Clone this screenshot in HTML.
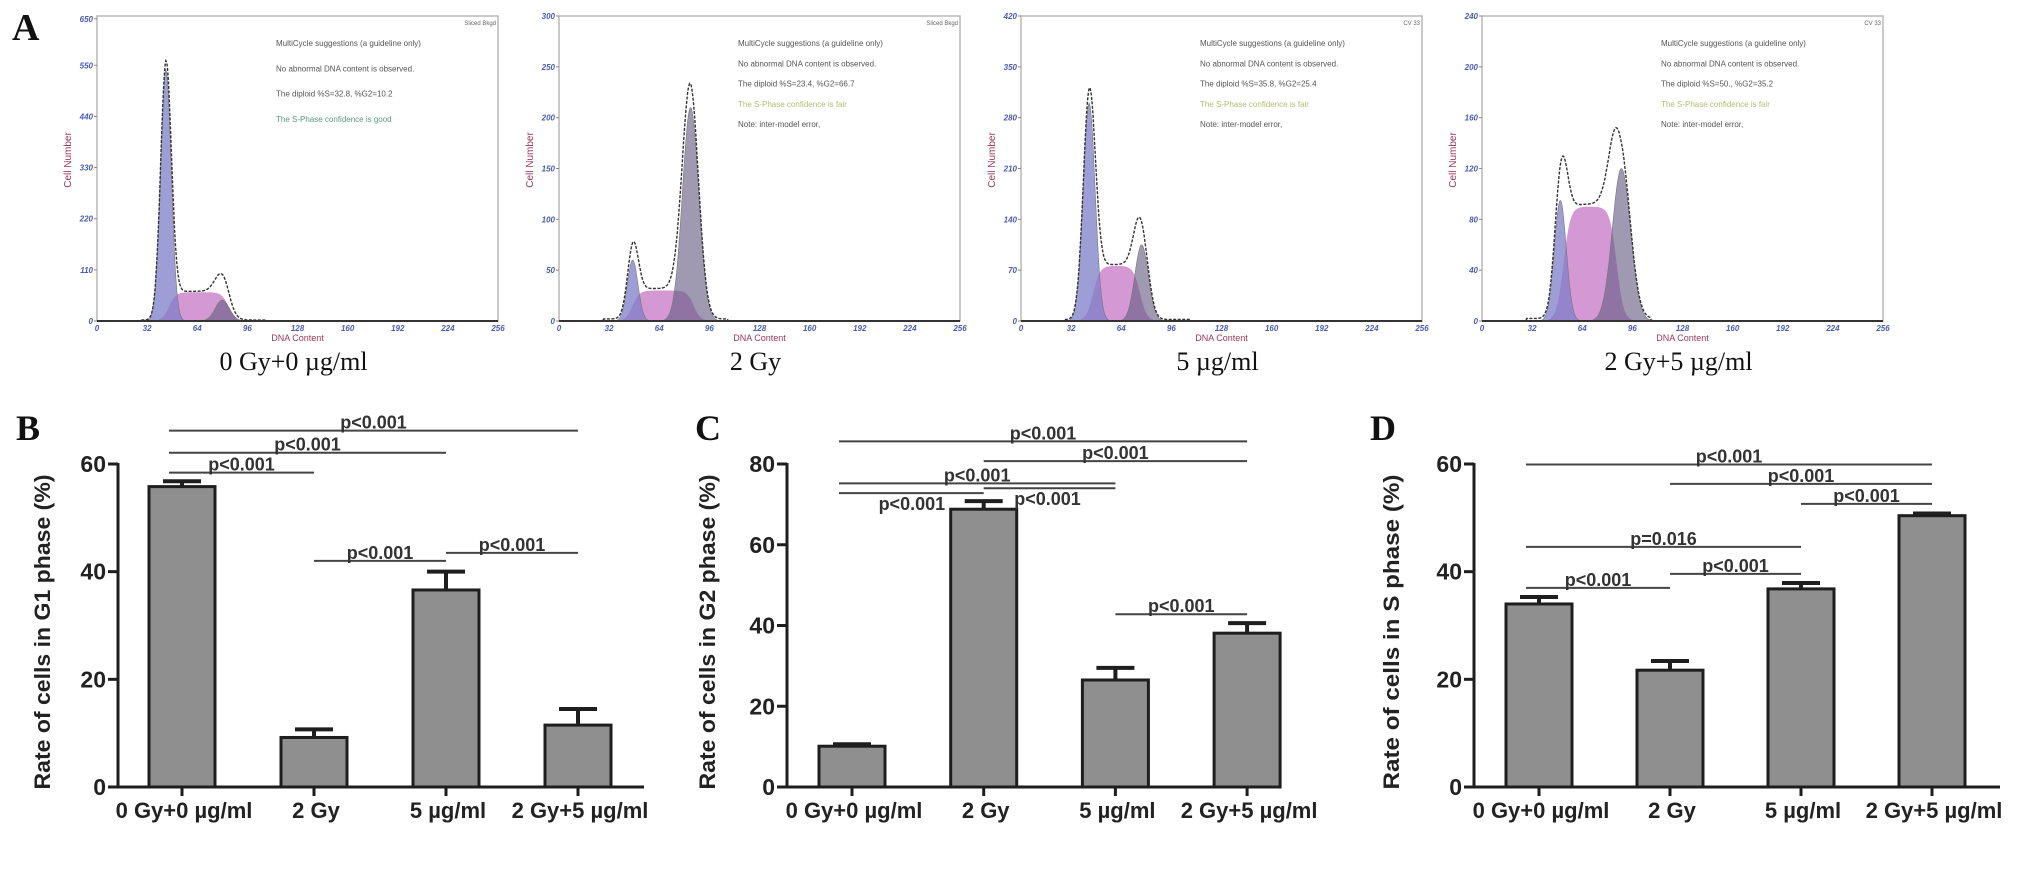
<!DOCTYPE html>
<html><head><meta charset="utf-8">
<style>
html,body{margin:0;padding:0;background:#fff;}
svg{display:block;}
.sans{font-family:"Liberation Sans",Arial,sans-serif;}
.serif{font-family:"Liberation Serif","Times New Roman",serif;}
</style></head>
<body>
<svg id="fig" width="2031" height="880" viewBox="0 0 2031 880" xmlns="http://www.w3.org/2000/svg">
<rect width="2031" height="880" fill="#fff"/>
</svg>
<script>
// ---------- Histogram data (panel A) ----------
const histCaptions = ["0 Gy+0 \u00b5g/ml", "2 Gy", "5 \u00b5g/ml", "2 Gy+5 \u00b5g/ml"];
const histYTicks = [[0,110,220,330,440,550,650],[0,50,100,150,200,250,300],[0,70,140,210,280,350,420],[0,40,80,120,160,200,240]];
const histYMax = [656, 300, 420, 240];
const g1Mean = [44, 47, 43.5, 50];
const g1Height = [540, 60, 300, 95];
const g1Sigma = [3.4, 3.4, 3.8, 3.8];
const sStart = [46, 47, 46, 52];
const sEnd = [84, 86, 76, 86];
const sHeight = [62, 30, 76, 90];
const g2Mean = [80, 84, 77, 89];
const g2Height = [45, 210, 105, 120];
const g2Sigma = [4.5, 5.2, 4.3, 5.8];
const statLine = ["The diploid %S=32.8, %G2=10.2","The diploid %S=23.4, %G2=66.7","The diploid %S=35.8, %G2=25.4","The diploid %S=50., %G2=35.2"];
const confLine = ["The S-Phase confidence is good","The S-Phase confidence is fair","The S-Phase confidence is fair","The S-Phase confidence is fair"];
const cornerTag = ["Sliced Bkgd","Sliced Bkgd","CV 33","CV 33"];
const xTicks = [0,32,64,96,128,160,192,224,256];

// ---------- Bar chart data ----------
const categories = ["0 Gy+0 \u00b5g/ml", "2 Gy", "5 \u00b5g/ml", "2 Gy+5 \u00b5g/ml"];
const g1Values = [55.8, 9.2, 36.6, 11.5];
const g1Errors = [1.0, 1.5, 3.4, 3.0];
const g2Values = [10.1, 68.8, 26.5, 38.1];
const g2Errors = [0.5, 2.0, 3.0, 2.5];
const sValues = [34.0, 21.7, 36.8, 50.4];
const sErrors = [1.3, 1.7, 1.1, 0.4];
const g1Ticks = [0, 20, 40, 60];
const g2Ticks = [0, 20, 40, 60, 80];
const sTicks = [0, 20, 40, 60];
// significance brackets: [from, to, level, label, below]
const g1Sig = [[0,3,66.2,"p<0.001",0],[0,2,62.1,"p<0.001",0],[0,1,58.4,"p<0.001",0],[1,2,42.0,"p<0.001",0],[2,3,43.5,"p<0.001",0]];
const g2Sig = [[0,3,85.6,"p<0.001",0],[1,3,80.7,"p<0.001",0],[0,2,75.2,"p<0.001",0],[0,1,72.8,"p<0.001",1],[1,2,74.0,"p<0.001",1],[2,3,42.8,"p<0.001",0]];
const sSig = [[0,3,59.9,"p<0.001",0],[1,3,56.3,"p<0.001",0],[2,3,52.6,"p<0.001",0],[0,2,44.6,"p=0.016",0],[1,2,39.6,"p<0.001",0],[0,1,37.0,"p<0.001",0]];

const NS = "http://www.w3.org/2000/svg";
const svg = document.getElementById('fig');
function mk(tag, attrs, parent, text){
  const e = document.createElementNS(NS, tag);
  for (const k in attrs) e.setAttribute(k, attrs[k]);
  if (text !== undefined) e.textContent = text;
  (parent || svg).appendChild(e);
  return e;
}

// ---------- Panel A ----------
const letterA = mk('text',{x:12,y:40,'font-size':38,'font-weight':'bold',class:'serif',fill:'#111'},svg,'A');



const frameLeft = [97, 559, 1021, 1482];
const FW = 401, FT = 16, FB = 321;

function gauss(x,m,s){return Math.exp(-0.5*((x-m)/s)*((x-m)/s));}
function sPhase(x,a,b){const k=2.2;return 1/(1+Math.exp(-(x-a)/k))*1/(1+Math.exp((x-b)/k));}

for (let p=0;p<4;p++){
  const g = mk('g',{},svg);
  
  
  const L = frameLeft[p];
  const xs = d => L + d/256*FW;
  const ys = v => FB - v/histYMax[p]*(FB-FT);
  mk('rect',{x:L,y:FT,width:FW,height:FB-FT,fill:'#fff',stroke:'#b8b8b8','stroke-width':1.5},g);
  const comp = (fn) => {
    let d = 'M'+xs(20)+','+ys(0);
    for (let x=20;x<=120;x+=0.5){ d += ' L'+xs(x).toFixed(1)+','+ys(fn(x)).toFixed(1); }
    d += ' L'+xs(120)+','+ys(0)+' Z';
    return d;
  };
  const fS = x => sHeight[p]*sPhase(x,sStart[p],sEnd[p]);
  const fG1 = x => g1Height[p]*gauss(x,g1Mean[p],g1Sigma[p]);
  const fG2 = x => g2Height[p]*gauss(x,g2Mean[p],g2Sigma[p]);
  const sp = mk('path',{d:comp(fS),fill:'rgba(205,135,205,0.85)'},g);
  
  
  const g1p = mk('path',{d:comp(fG1),fill:'rgba(125,125,200,0.75)',stroke:'#777',"stroke-width":0.6},g);
  
  
  const g2p = mk('path',{d:comp(fG2),fill:'rgba(100,92,130,0.62)',stroke:'#777',"stroke-width":0.6},g);
  
  
  let ed = '';
  for (let x=20;x<=120;x+=0.5){ const v=fS(x)+fG1(x)+fG2(x)+ (x>28&&x<108?2:0); ed += (ed?' L':'M')+xs(x).toFixed(1)+','+ys(v).toFixed(1); }
  const env = mk('path',{d:ed,fill:'none',stroke:'#333','stroke-width':1.4,'stroke-dasharray':'3,1.5'},g);
  
  
  mk('line',{x1:L,y1:FB,x2:L+FW,y2:FB,stroke:'#333','stroke-width':2},g);
  histYTicks[p].forEach(t=>{
    const y = ys(t);
    mk('line',{x1:L-3,y1:y,x2:L,y2:y,stroke:'#888','stroke-width':1},g);
    const tl = mk('text',{x:L-4,y:y+3,'font-size':8,'font-style':'italic','font-weight':'bold','text-anchor':'end',fill:'#4a5cb5',class:'sans'},g,String(t));
    
    
  });
  xTicks.forEach(t=>{
    const xl = mk('text',{x:xs(t),y:FB+10,'font-size':8,'font-style':'italic','font-weight':'bold','text-anchor':'middle',fill:'#4a5cb5',class:'sans'},g,String(t));
    
    
  });
  const yt = mk('text',{x:0,y:0,'font-size':10,'text-anchor':'middle',fill:'#9a3858',class:'sans',transform:'translate('+(L-26)+',160) rotate(-90)'},g,'Cell Number');
  
  
  const xt = mk('text',{x:L+FW/2,y:FB+20,'font-size':9,'text-anchor':'middle',fill:'#9a3858',class:'sans'},g,'DNA Content');
  
  
  const ct = mk('text',{x:L+FW-2,y:FT+9,'font-size':6,'text-anchor':'end',fill:'#666',class:'sans'},g,cornerTag[p]);
  
  
  const lines = p===0 ? ["MultiCycle suggestions (a guideline only)","No abnormal DNA content is observed.",statLine[p],confLine[p]]
                      : ["MultiCycle suggestions (a guideline only)","No abnormal DNA content is observed.",statLine[p],confLine[p],"Note: inter-model error,"];
  const tx = L + 179;
  const step = p===0 ? 25.3 : 20.3;
  lines.forEach((s,i)=>{
    const col = i===3 ? (p===0?'#5a9a82':'#b5bd72') : '#555';
    const t = mk('text',{x:tx,y:46+i*step,'font-size':8,fill:col,class:'sans'},g,s);
    
    
  });
  const cap = mk('text',{x:L+FW/2-4,y:370,'font-size':26,'text-anchor':'middle',fill:'#111',class:'serif'},g,histCaptions[p]);
  
  
}

// ---------- Bar charts ----------
function barChart(cfg){
  const g = mk('g',{},svg);
  
  
  const Y0 = 787, YT = 464;
  const ymax = cfg.ticks[cfg.ticks.length-1];
  const ys = v => Y0 - v/ymax*(Y0-YT);
  const xc = i => cfg.c0 + i*cfg.step;
  const BW = 66;
  const lt = mk('text',{x:cfg.letterX,y:440,'font-size':36,'font-weight':'bold',class:'serif',fill:'#111'},g,cfg.letter);
  
  
  cfg.values.forEach((v,i)=>{
    const b = mk('rect',{x:xc(i)-BW/2,y:ys(v),width:BW,height:Y0-ys(v),fill:'#8f8f8f',stroke:'#1e1e1e','stroke-width':3},g);
    
    
    const top = ys(v+cfg.errors[i]);
    const e = mk('path',{d:'M'+xc(i)+','+ys(v)+' L'+xc(i)+','+top+' M'+(xc(i)-19)+','+top+' L'+(xc(i)+19)+','+top,stroke:'#1e1e1e','stroke-width':4,fill:'none'},g);
    
    
  });
  const ax = mk('path',{d:'M'+cfg.axisX+','+(YT-1)+' L'+cfg.axisX+','+Y0+' L'+cfg.axisEnd+','+Y0,stroke:'#1e1e1e','stroke-width':3,fill:'none'},g);
  
  
  cfg.ticks.forEach(t=>{
    mk('line',{x1:cfg.axisX-10,y1:ys(t),x2:cfg.axisX,y2:ys(t),stroke:'#1e1e1e','stroke-width':3},g);
    const tl = mk('text',{x:cfg.axisX-12,y:ys(t)+8,'font-size':23,'font-weight':'bold','text-anchor':'end',fill:'#222',class:'sans'},g,String(t));
    
    
  });
  categories.forEach((c,i)=>{
    mk('line',{x1:xc(i),y1:Y0,x2:xc(i),y2:Y0+9,stroke:'#1e1e1e','stroke-width':3},g);
    const cl = mk('text',{x:xc(i)+2,y:818,'font-size':22,'font-weight':'bold','text-anchor':'middle',fill:'#222',class:'sans'},g,c);
    
    
  });
  const yt = mk('text',{x:0,y:0,'font-size':22,'font-weight':'bold','text-anchor':'middle',fill:'#222',class:'sans',transform:'translate('+cfg.titleX+',632) rotate(-90)',textLength:315,lengthAdjust:'spacingAndGlyphs'},g,cfg.title);
  
  
  cfg.sig.forEach(s=>{
    const x1 = xc(s[0]) - (s[0]===0?13:0);
    const x2 = xc(s[1]);
    const y = ys(s[2]);
    const ln = mk('line',{x1:x1,y1:y,x2:x2,y2:y,stroke:'#444','stroke-width':2},g);
    
    
    const ty = s[4] ? y+17 : y-2;
    const tx = s[4] ? (xc(s[0])+xc(s[1]))/2 + (s[0]===0?-6:-2) : (x1+x2)/2;
    const t = mk('text',{x:tx,y:ty,'font-size':18,'font-weight':'bold','text-anchor':'middle',fill:'#333',class:'sans'},g,s[3]);
    
    
  });
}

barChart({name:'g1-phase-chart',letter:'B',letterX:16,values:g1Values,errors:g1Errors,ticks:g1Ticks,sig:g1Sig,c0:182,step:132,axisX:118,axisEnd:644,titleX:50,title:'Rate of cells in G1 phase (%)'});
barChart({name:'g2-phase-chart',letter:'C',letterX:695,values:g2Values,errors:g2Errors,ticks:g2Ticks,sig:g2Sig,c0:852,step:131.7,axisX:787,axisEnd:1276,titleX:715,title:'Rate of cells in G2 phase (%)'});
barChart({name:'s-phase-chart',letter:'D',letterX:1370,values:sValues,errors:sErrors,ticks:sTicks,sig:sSig,c0:1539,step:131,axisX:1474,axisEnd:2000,titleX:1399,title:'Rate of cells in S phase (%)'});
</script>
</body></html>
